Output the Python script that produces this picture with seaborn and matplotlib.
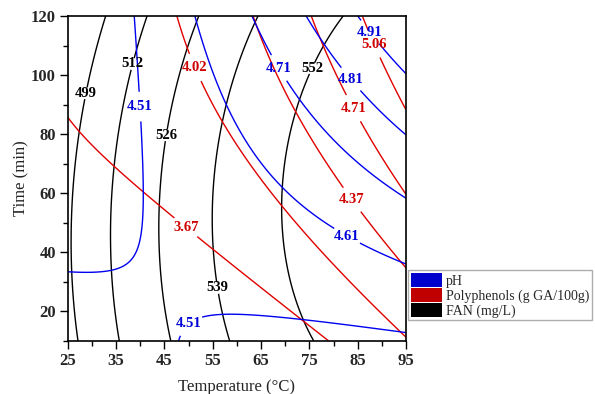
import numpy as np
import matplotlib
matplotlib.use("Agg")
import matplotlib.pyplot as plt
from matplotlib.patches import Patch
import seaborn as sns

# ---------------- data (Temperature °C, Time min) ----------------
temp_range = [25, 95]
time_range = [10, 120]
x_ticks = [25, 35, 45, 55, 65, 75, 85, 95]
y_ticks = [20, 40, 60, 80, 100, 120]

# pH contour points
ph_levels = [4.51, 4.61, 4.71, 4.81, 4.91]
ph_points = {
    4.51: [(38.6, 119.8), (39.3, 107.4), (39.6, 89.3), (40.6, 78), (40.8, 57.8), (40.3, 46.5),
           (38.6, 38), (35.8, 34.7), (31.7, 33.5), (25.5, 33.2),
           (48.2, 10.5), (48.5, 12.1), (53.1, 18.3), (59.3, 18.9), (73.7, 16.9), (95, 12.7)],
    4.61: [(51.3, 119.8), (54.45, 104), (57.9, 89.3), (62.7, 77), (69.2, 61.7), (80, 48.2),
           (86.2, 42.6), (93.75, 37.5)],
    4.71: [(63.6, 119.8), (67.3, 106.2), (70, 98.4), (77.9, 81.4), (80, 78.1), (94.8, 58.4)],
    4.81: [(74.45, 119.8), (81.3, 102.9), (86.2, 93.3), (94.8, 80.3)],
    4.91: [(85.1, 119.8), (90, 109.6), (94.8, 100.6)],
}
ph_label_pos = [(39.6, 89.3), (50.0, 16.0), (82.8, 45.6), (68.6, 102.3), (83.4, 98.4), (87.6, 114.6)]

# Polyphenols (g GA/100g) contour points
poly_levels = [3.67, 4.02, 4.37, 4.71, 5.06]
poly_points = {
    3.67: [(25, 86.5), (27.5, 81.4), (34.4, 69), (40.6, 60.5), (44.1, 55.5), (52.9, 43.9),
           (73.75, 17.2), (78.9, 10.1)],
    4.02: [(47.55, 119.8), (50.3, 106.2), (52.4, 98.9), (56.5, 84.8), (61.3, 73.6), (66.5, 61.7),
           (78.9, 37.5), (86.9, 24), (95, 11)],
    4.37: [(63.1, 119.8), (69.1, 99.5), (71.0, 91.6), (73.75, 81.4), (82, 61.2), (85.5, 53.8),
           (93.75, 37.5), (95, 35.5)],
    4.71: [(75.5, 119.8), (78.2, 109.6), (82.7, 93.9), (85.8, 84.8), (87.5, 78), (94.8, 60)],
    5.06: [(85.8, 119.8), (89.3, 107.4), (94.8, 88.2)],
}
poly_label_pos = [(49.2, 48.0), (51.0, 102.3), (83.8, 57.8), (84.1, 88.8), (88.8, 110.8)]

# FAN (mg/L) contour points
fan_levels = [499, 512, 526, 539, 552]
fan_points = {
    499: [(32.9, 119.8), (29.05, 96), (28.2, 89.3), (26.9, 78), (26.0, 62.2), (25.7, 46.5),
          (25.7, 33), (26.2, 24), (27.2, 10.1)],
    512: [(41.3, 119.8), (37.9, 98.4), (35.8, 80.3), (34.8, 66.8), (34.1, 46.5), (34.1, 33),
          (34.8, 24), (36.0, 10.1)],
    526: [(51.7, 119.8), (49.3, 107.4), (46.85, 90.5), (44.8, 74.7), (43.75, 61.2), (43.4, 50),
          (43.4, 35), (44.8, 20.6), (46.2, 10.1)],
    539: [(64.4, 119.8), (60.65, 102.9), (57.55, 88.2), (55.8, 74.7), (54.8, 61.2), (55.1, 50),
          (55.3, 40), (57.2, 20.6), (58.6, 10.1)],
    552: [(81.3, 119.8), (76.85, 106.2), (74.4, 98.4), (71.35, 81.4), (70.0, 62.3), (69.5, 54.4),
          (70.0, 37.5), (73.4, 17.2), (75.8, 10.1)],
}
fan_label_pos = [(28.6, 93.9), (39.3, 103.4), (44.9, 79.8), (55.8, 27.9), (75.5, 102.3)]

legend_labels = ["pH", "Polyphenols (g GA/100g)", "FAN (mg/L)"]

# ---------------- colours ----------------
c_ph_line, c_poly_line, c_fan_line = "#0000F0", "#E00000", "#000000"
c_ph_patch, c_poly_patch, c_fan_patch = "#0000CC", "#C00000", "#000000"


def fit_surface(points):
    T, t, v = [], [], []
    for lev, pts in points.items():
        for a, b in pts:
            T.append(a); t.append(b); v.append(lev)
    x = (np.array(T) - 60) / 35.0
    y = (np.array(t) - 65) / 55.0
    A = np.column_stack([np.ones_like(x), x, y, x * x, y * y, x * y])
    coef, *_ = np.linalg.lstsq(A, np.array(v), rcond=None)
    return coef


def eval_surface(coef, TT, tt):
    x = (TT - 60) / 35.0
    y = (tt - 65) / 55.0
    return coef[0] + coef[1] * x + coef[2] * y + coef[3] * x * x + coef[4] * y * y + coef[5] * x * y


sns.set_theme(style="ticks")
plt.rcParams["font.family"] = ["Liberation Serif", "DejaVu Serif"]

fig = plt.figure(figsize=(5.95, 3.94), dpi=100)
ax = fig.add_axes([0.1138, 0.1345, 0.5686, 0.8249])

gT = np.linspace(temp_range[0], temp_range[1], 400)
gt = np.linspace(time_range[0], time_range[1], 400)
TT, tt = np.meshgrid(gT, gt)

fan_z = eval_surface(fit_surface(fan_points), TT, tt)
poly_z = eval_surface(fit_surface(poly_points), TT, tt)
ph_z = eval_surface(fit_surface(ph_points), TT, tt)

cs_fan = ax.contour(TT, tt, fan_z, levels=fan_levels, colors=c_fan_line, linewidths=1.0)
cs_poly = ax.contour(TT, tt, poly_z, levels=poly_levels, colors=c_poly_line, linewidths=1.0)
cs_ph = ax.contour(TT, tt, ph_z, levels=ph_levels, colors=c_ph_line, linewidths=1.0)

plt.rcParams["font.weight"] = "bold"
labels = []
labels += ax.clabel(cs_fan, manual=fan_label_pos, fmt={l: f"{l:d}" for l in fan_levels},
                    fontsize=10.5, colors=c_fan_line, inline=True, inline_spacing=-5)
labels += ax.clabel(cs_poly, manual=poly_label_pos, fmt={l: f"{l:.2f}" for l in poly_levels},
                    fontsize=10.5, colors="#D00000", inline=True, inline_spacing=2)
labels += ax.clabel(cs_ph, manual=ph_label_pos, fmt={l: f"{l:.2f}" for l in ph_levels},
                    fontsize=10.5, colors="#0000D8", inline=True, inline_spacing=2)
plt.rcParams["font.weight"] = "normal"
for txt in labels:
    txt.set_rotation(0)
    txt.set_fontweight("bold")

ax.set_xlim(*temp_range)
ax.set_ylim(*time_range)
ax.set_xticks(x_ticks)
ax.set_yticks(y_ticks)
ax.set_xticks(np.arange(30, 95, 10), minor=True)
ax.set_yticks(np.arange(10, 121, 20), minor=True)
ax.tick_params(axis="both", which="major", direction="out", length=6, width=1.0,
               labelsize=12, color="black", pad=2.5)
ax.tick_params(axis="both", which="minor", direction="out", length=3.5, width=1.0, color="black")
for lab in ax.get_xticklabels() + ax.get_yticklabels():
    lab.set_fontweight("bold")
for sp in ax.spines.values():
    sp.set_visible(True)
    sp.set_linewidth(1.2)
    sp.set_color("black")

ax.set_xlabel("Temperature (°C)", fontsize=12, labelpad=7)
ax.set_ylabel("Time (min)", fontsize=12, labelpad=1)
ax.grid(False)

handles = [Patch(facecolor=c, edgecolor="none") for c in (c_ph_patch, c_poly_patch, c_fan_patch)]
leg = fig.legend(handles, legend_labels, loc="upper left", bbox_to_anchor=(0.686, 0.3147),
                 frameon=True, fancybox=False, fontsize=10, handlelength=2.2, handleheight=1.2,
                 labelspacing=0.0, handletextpad=0.3, borderpad=0.2, borderaxespad=0.0)
leg.get_frame().set_edgecolor("#999999")
leg.get_frame().set_linewidth(1.0)

fig.savefig("out.png", dpi=100)
